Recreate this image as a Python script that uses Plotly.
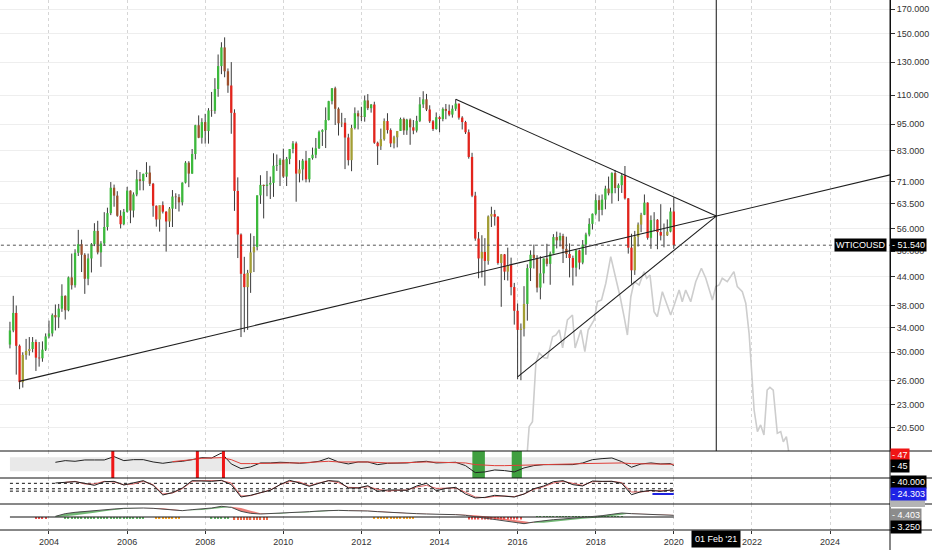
import math
import pandas as pd
import plotly.graph_objects as go

# ------------------------------------------------------------------ data
candle_start = "2003-01-01"   # monthly bars, Jan 2003 .. Jan 2020
opens = [
    31.2, 33.5, 36.6, 31.0, 25.8, 29.6, 30.2, 30.5, 31.6, 29.2, 29.1, 30.4,
    32.5, 33.0, 36.2, 35.8, 37.4, 39.9, 37.1, 43.8, 42.1, 49.6, 51.8, 49.1,
    43.5, 48.2, 51.8, 55.4, 49.7, 52.0, 56.5, 60.6, 68.9, 66.2, 59.8, 57.3,
    61.0, 67.9, 61.4, 66.6, 71.9, 71.3, 73.9, 74.4, 70.3, 62.9, 58.7, 63.1,
    61.05, 58.1, 62.0, 65.9, 65.7, 64.0, 70.7, 78.2, 74.0, 81.7, 94.5, 88.7,
    96.0, 91.75, 101.8, 101.6, 113.5, 127.4, 140.0, 124.1, 115.5, 100.6, 67.8, 54.4,
    44.6, 41.7, 44.8, 49.7, 51.1, 66.3, 69.9, 69.5, 70.0, 70.6, 77.0, 77.3,
    79.4, 72.9, 79.7, 83.8, 86.2, 74.0, 75.6, 79.0, 71.9, 80.0, 81.4, 84.1,
    91.4, 92.2, 97.0, 106.7, 113.9, 102.7, 95.4, 95.7, 88.8, 79.2, 93.2, 100.4,
    98.8, 98.5, 107.1, 103.0, 104.9, 86.5, 84.96, 88.06, 96.5, 92.2, 86.2, 88.9,
    91.8, 97.5, 92.05, 97.2, 93.5, 91.97, 96.6, 105.0, 107.7, 102.3, 96.4, 92.7,
    98.4, 97.5, 102.6, 101.6, 99.7, 102.7, 105.4, 98.2, 96.0, 91.2, 80.5, 66.2,
    53.3, 48.2, 49.8, 47.6, 59.6, 60.3, 59.5, 47.1, 49.2, 45.1, 46.6, 41.7,
    37.0, 33.6, 33.8, 38.3, 45.9, 49.1, 48.3, 41.6, 44.7, 48.2, 46.9, 49.4,
    53.7, 52.8, 54.0, 50.6, 49.3, 48.3, 46.0, 50.2, 47.2, 51.7, 54.4, 57.4,
    60.4, 64.7, 61.6, 64.9, 68.6, 67.0, 74.2, 68.8, 69.8, 73.3, 65.3, 50.9,
    45.4, 53.8, 57.2, 60.1, 63.9, 53.5, 58.5, 58.6, 55.1, 54.1, 54.2, 55.2,
    61.1,
]
highs = [
    35.0, 39.9, 38.0, 31.2, 30.0, 32.1, 32.4, 32.4, 32.0, 31.6, 31.7, 33.0,
    35.2, 36.5, 38.2, 38.3, 42.3, 40.0, 44.0, 49.4, 50.5, 55.7, 53.0, 49.5,
    49.4, 52.1, 57.6, 58.3, 52.6, 60.9, 62.3, 70.9, 70.0, 67.7, 61.5, 61.9,
    69.2, 68.0, 67.3, 75.4, 74.6, 74.0, 78.4, 77.0, 70.6, 63.0, 62.5, 64.3,
    61.2, 62.5, 68.1, 67.0, 66.7, 70.8, 78.8, 78.8, 83.8, 94.7, 99.3, 97.9,
    100.1, 103.0, 111.8, 119.9, 135.1, 143.7, 147.3, 125.9, 130.0, 102.4, 72.6, 54.7,
    48.6, 45.5, 54.7, 54.0, 66.3, 73.4, 70.0, 75.0, 72.9, 82.0, 81.5, 80.0,
    83.95, 80.5, 83.2, 87.2, 87.0, 79.2, 79.7, 83.0, 80.0, 84.4, 88.6, 92.0,
    92.6, 103.4, 106.9, 114.0, 114.8, 103.4, 100.6, 98.0, 90.5, 94.7, 103.4, 101.8,
    103.7, 109.8, 110.6, 105.2, 106.4, 87.0, 92.9, 97.8, 100.4, 93.0, 89.6, 91.3,
    98.2, 98.2, 97.6, 97.8, 97.0, 99.1, 108.9, 112.2, 110.7, 104.5, 97.0, 100.8,
    98.9, 103.4, 105.2, 104.9, 104.5, 107.7, 105.4, 98.9, 96.6, 92.5, 82.2, 67.5,
    55.1, 54.2, 53.4, 59.9, 62.6, 61.6, 59.7, 49.3, 49.3, 50.9, 48.4, 42.6,
    38.4, 34.7, 41.9, 46.8, 50.2, 51.7, 49.0, 48.75, 48.2, 51.9, 49.9, 54.5,
    55.2, 54.9, 54.6, 53.8, 52.0, 48.9, 50.4, 50.4, 52.9, 54.9, 59.05, 60.5,
    66.7, 66.3, 66.6, 69.6, 72.9, 74.5, 75.3, 70.4, 73.9, 76.9, 65.4, 54.6,
    55.4, 57.8, 60.7, 66.6, 64.0, 59.9, 60.9, 58.8, 63.4, 57.5, 58.7, 62.3,
    65.65,
]
lows = [
    30.6, 33.2, 26.8, 24.9, 25.1, 28.9, 29.5, 30.0, 27.3, 27.9, 28.6, 30.2,
    32.2, 32.5, 33.5, 33.9, 36.8, 35.4, 36.9, 41.2, 41.6, 48.8, 45.0, 40.3,
    42.1, 44.9, 51.3, 49.2, 46.2, 51.4, 55.5, 60.0, 62.6, 59.5, 56.1, 57.0,
    60.8, 57.6, 59.3, 66.0, 68.0, 68.0, 72.7, 69.5, 59.5, 56.6, 55.2, 60.5,
    49.9, 56.5, 56.5, 61.9, 61.1, 63.0, 70.4, 69.1, 73.9, 79.5, 88.5, 86.1,
    86.1, 86.1, 98.6, 100.1, 109.1, 122.3, 120.4, 111.3, 90.5, 61.3, 48.3, 32.4,
    33.2, 33.6, 40.5, 45.0, 50.2, 63.5, 59.0, 66.0, 65.1, 65.8, 75.0, 69.5,
    72.4, 69.5, 77.6, 82.0, 64.2, 70.8, 71.5, 70.8, 70.8, 79.4, 80.0, 83.8,
    85.1, 84.2, 96.8, 105.0, 94.6, 89.7, 93.6, 75.7, 77.1, 74.9, 92.5, 92.5,
    96.5, 96.2, 102.0, 100.7, 86.0, 77.3, 83.4, 87.4, 90.6, 84.6, 84.05, 84.5,
    91.8, 90.0, 90.0, 85.6, 90.3, 91.1, 96.0, 103.1, 101.5, 95.6, 91.8, 92.4,
    91.2, 96.4, 97.4, 98.9, 98.2, 101.6, 97.2, 92.5, 90.4, 79.8, 65.7, 52.7,
    43.6, 43.8, 42.0, 46.7, 56.5, 56.9, 46.7, 37.75, 43.2, 43.1, 40.0, 34.5,
    26.2, 26.05, 32.5, 35.2, 43.0, 45.8, 40.6, 39.2, 42.5, 46.3, 42.2, 49.4,
    50.7, 51.2, 47.1, 48.3, 43.8, 42.05, 44.0, 45.6, 46.8, 49.1, 53.9, 55.8,
    59.9, 58.1, 59.95, 61.8, 66.3, 63.6, 67.0, 64.4, 67.1, 64.9, 49.4, 42.4,
    44.35, 51.2, 55.05, 60.0, 53.0, 50.6, 55.3, 50.5, 52.8, 50.99, 54.0, 55.0,
    50.6,
]
closes = [
    33.5, 36.6, 31.0, 25.8, 29.6, 30.2, 30.5, 31.6, 29.2, 29.1, 30.4, 32.5,
    33.0, 36.2, 35.8, 37.4, 39.9, 37.1, 43.8, 42.1, 49.6, 51.8, 49.1, 43.5,
    48.2, 51.8, 55.4, 49.7, 52.0, 56.5, 60.6, 68.9, 66.2, 59.8, 57.3, 61.0,
    67.9, 61.4, 66.6, 71.9, 71.3, 73.9, 74.4, 70.3, 62.9, 58.7, 63.1, 61.05,
    58.1, 62.0, 65.9, 65.7, 64.0, 70.7, 78.2, 74.0, 81.7, 94.5, 88.7, 96.0,
    91.75, 101.8, 101.6, 113.5, 127.4, 140.0, 124.1, 115.5, 100.6, 67.8, 54.4, 44.6,
    41.7, 44.8, 49.7, 51.1, 66.3, 69.9, 69.5, 70.0, 70.6, 77.0, 77.3, 79.4,
    72.9, 79.7, 83.8, 86.2, 74.0, 75.6, 79.0, 71.9, 80.0, 81.4, 84.1, 91.4,
    92.2, 97.0, 106.7, 113.9, 102.7, 95.4, 95.7, 88.8, 79.2, 93.2, 100.4, 98.8,
    98.5, 107.1, 103.0, 104.9, 86.5, 84.96, 88.06, 96.5, 92.2, 86.2, 88.9, 91.8,
    97.5, 92.05, 97.2, 93.5, 91.97, 96.6, 105.0, 107.7, 102.3, 96.4, 92.7, 98.4,
    97.5, 102.6, 101.6, 99.7, 102.7, 105.4, 98.2, 96.0, 91.2, 80.5, 66.2, 53.3,
    48.2, 49.8, 47.6, 59.6, 60.3, 59.5, 47.1, 49.2, 45.1, 46.6, 41.7, 37.0,
    33.6, 33.8, 38.3, 45.9, 49.1, 48.3, 41.6, 44.7, 48.2, 46.9, 49.4, 53.7,
    52.8, 54.0, 50.6, 49.3, 48.3, 46.0, 50.2, 47.2, 51.7, 54.4, 57.4, 60.4,
    64.7, 61.6, 64.9, 68.6, 67.0, 74.2, 68.8, 69.8, 73.3, 65.3, 50.9, 45.4,
    53.8, 57.2, 60.1, 63.9, 53.5, 58.5, 58.6, 55.1, 54.1, 54.2, 55.2, 61.1,
    51.54,
]
symbol = "WTICOUSD"
last_price = 51.54
crosshair_date = "2021-02-01"
crosshair_label = "01 Feb '21"
price_ticks = [20.5, 23, 26, 30, 34, 38, 44, 50, 56, 63.5, 71, 83, 95, 110, 130, 150, 170]

# drawn trend lines (date, price)
trend_long_dates = ["2003-03-28", "2025-08-01"]
trend_long_prices = [25.9, 73.7]
trend_upper_dates = ["2014-06-01", "2021-02-01"]
trend_upper_prices = [107.7, 59.7]
trend_lower_dates = ["2016-01-01", "2021-02-01"]
trend_lower_prices = [26.5, 59.7]

# projected "ghost" bars pattern (grey line)
ghost_dates = [
    "2016-03-26", "2016-04-18", "2016-05-19", "2016-06-20", "2016-07-21", "2016-09-07",
    "2016-10-07", "2016-11-23", "2016-12-25", "2017-01-25", "2017-02-25", "2017-04-11",
    "2017-05-28", "2017-06-22", "2017-08-15", "2017-09-21", "2017-10-22", "2017-12-17",
    "2018-01-17", "2018-02-24", "2018-04-05", "2018-05-21", "2018-07-07", "2018-08-17",
    "2018-09-23", "2018-10-24", "2018-11-25", "2018-12-26", "2019-02-11", "2019-03-28",
    "2019-04-22", "2019-05-23", "2019-06-30", "2019-07-31", "2019-09-16", "2019-10-27",
    "2019-12-03", "2020-01-10", "2020-02-20", "2020-03-20", "2020-04-21", "2020-06-07",
    "2020-07-24", "2020-09-15", "2020-10-26", "2020-12-27", "2021-01-28", "2021-02-28",
    "2021-03-29", "2021-05-15", "2021-07-16", "2021-08-17", "2021-10-03", "2021-11-04",
    "2021-12-05", "2021-12-26", "2022-01-21", "2022-02-21", "2022-03-23", "2022-04-23",
    "2022-05-23", "2022-06-18", "2022-07-19", "2022-08-26", "2022-09-27", "2022-10-21",
    "2022-11-19", "2022-12-13",
]
ghost_prices = [
    17.4, 20.60, 21.13, 28.42, 29.89, 29.15,
    29.15, 32.46, 32.74, 33.58, 30.66, 35.32,
    36.22, 30.66, 33.58, 30.09, 33.58, 35.32,
    38.74, 39.07, 42.52, 48.63, 43.60, 39.72,
    35.91, 32.74, 39.72, 42.86, 42.16, 45.09,
    43.60, 44.34, 36.83, 35.91, 40.74, 38.10,
    36.22, 38.43, 41.09, 38.74, 41.09, 38.74,
    42.86, 45.86, 43.60, 39.07, 41.80, 42.16,
    43.60, 42.86, 45.09, 41.80, 40.74, 38.43,
    33.02, 27.89, 22.41, 20.09, 20.78, 19.75,
    24.79, 25.13, 24.79, 19.92, 20.09, 19.09,
    19.58, 18.0,
]

# panel 1: RSI-like oscillator (quarterly readings, last point Jan 2020)
rsi_start = "2004-03-01"
rsi_black = [
    55.7, 60.5, 58.6, 62.4, 62.4, 62.4, 71.9, 60.5, 63.3, 63.3, 56.7, 52.9,
    56.7, 58.6, 63.3, 69.0, 68.0, 82.3, 51.0, 37.7, 42.5, 53.9, 53.9, 55.8,
    54.8, 52.9, 54.8, 58.6, 68.1, 56.7, 51.0, 56.7, 56.7, 49.1, 52.9, 52.9,
    53.9, 56.7, 58.6, 53.9, 55.8, 55.8, 46.2, 26.3, 28.2, 33.9, 32.0, 28.2,
    39.6, 46.3, 49.1, 49.1, 51.0, 49.1, 53.9, 63.3, 66.2, 68.1, 57.6, 41.5,
    51.0, 53.9, 51.0, 52.0, 46.3,
]
rsi_red_start = "2007-03-01"
rsi_red = [
    57.6, 59.5, 63.3, 67.1, 68.0, 69.0, 63.3, 52.0, 52.0, 52.9, 53.9, 53.9,
    53.9, 53.9, 54.8, 55.8, 58.6, 56.7, 55.8, 56.7, 56.7, 54.8, 53.9, 53.9,
    53.9, 55.8, 56.7, 55.8, 54.8, 54.8, 53.9, 49.1, 47.2, 46.2, 46.2, 46.2,
    47.2, 48.2, 49.1, 49.1, 50.0, 51.0, 52.0, 52.9, 53.9, 53.9, 53.9, 52.0,
    52.0, 52.0, 52.0, 51.0, 50.0,
]
rsi_band = [30, 70]
overbought_starts = ["2005-08-06", "2007-10-06", "2008-06-06"]
overbought_ends = ["2005-09-03", "2007-11-03", "2008-07-04"]
oversold_starts = ["2014-11-04", "2015-11-07"]
oversold_ends = ["2015-03-01", "2016-02-10"]

# panel 2: ADX-like lines
adx_start = "2004-03-01"
adx_black = [
    40.5, 41.9, 42.4, 40.0, 37.0, 42.4, 42.9, 37.5, 40.5, 43.9, 37.0, 22.9,
    26.3, 33.1, 43.9, 42.9, 42.9, 44.4, 38.0, 19.9, 22.4, 26.3, 29.7, 38.0,
    44.4, 40.5, 35.6, 40.0, 43.9, 42.9, 33.1, 33.1, 36.5, 28.2, 30.2, 30.2,
    29.7, 36.1, 40.0, 29.2, 32.6, 34.1, 24.3, 18.5, 19.4, 22.4, 20.9, 19.9,
    24.3, 32.1, 36.1, 42.4, 43.9, 38.0, 36.1, 43.4, 42.9, 42.9, 40.0, 23.3,
    27.7, 29.7, 28.2, 30.2, 29.2,
]
adx_red_start = "2004-06-01"
adx_red = [
    41.4, 42.9, 39.0, 39.0, 42.9, 41.9, 38.0, 39.0, 42.9, 38.0, 24.3,
    25.8, 32.1, 42.9, 43.9, 43.4, 43.9, 40.5, 21.4, 21.9, 25.8, 30.2, 38.0,
    42.9, 41.9, 36.5, 40.5, 43.9, 41.0, 34.1, 33.6, 35.1, 31.2, 28.7, 29.7,
    30.2, 34.6, 37.0, 32.6, 32.6, 33.1, 26.8, 19.9, 18.9, 20.9, 21.4, 20.4,
    24.3, 31.2, 35.1, 40.5, 42.9, 40.0, 37.0, 42.4, 42.9, 42.9, 41.0, 27.3,
    27.3, 29.2, 29.2, 30.2, 29.7,
]
adx_levels = [40, 32, 28.5]
adx_blue_dates = ["2019-06-15", "2020-01-01"]
adx_blue = [24.3, 24.3]

# panel 3: MACD-like lines
macd_start = "2004-03-01"
macd_main = [
    0.067, 0.333, 0.467, 0.567, 0.633, 0.7, 0.8, 0.867, 0.9, 0.9, 0.867, 0.767,
    0.667, 0.633, 0.733, 0.8, 0.9, 1.067, 0.967, 0.567, 0.367, 0.3, 0.333, 0.4,
    0.433, 0.467, 0.533, 0.6, 0.667, 0.667, 0.633, 0.633, 0.6, 0.533, 0.467, 0.4,
    0.367, 0.333, 0.3, 0.3, 0.267, 0.233, 0.167, 0.033, -0.067, -0.2, -0.333, -0.5,
    -0.667, -0.5, -0.367, -0.267, -0.2, -0.133, -0.067, 0.0, 0.133, 0.267, 0.4, 0.333,
    0.3, 0.267, 0.233, 0.2, 0.167,
]
macd_signal = [
    0.0, 0.067, 0.167, 0.3, 0.433, 0.567, 0.7, 0.8, 0.867, 0.9, 0.9, 0.867,
    0.767, 0.667, 0.667, 0.7, 0.8, 0.9, 1.033, 0.9, 0.633, 0.367, 0.3, 0.333,
    0.4, 0.433, 0.467, 0.533, 0.6, 0.633, 0.667, 0.667, 0.633, 0.6, 0.533, 0.467,
    0.4, 0.367, 0.333, 0.3, 0.3, 0.267, 0.233, 0.167, 0.067, -0.033, -0.167, -0.3,
    -0.433, -0.567, -0.567, -0.467, -0.367, -0.267, -0.167, -0.1, 0.0, 0.1, 0.233, 0.367,
    0.333, 0.3, 0.267, 0.233, 0.2,
]
hist_starts = ["2003-09-01", "2004-06-01", "2006-10-01", "2008-03-01", "2008-10-01",
               "2012-05-01", "2014-10-01", "2016-07-01"]
hist_ends = ["2003-12-01", "2006-06-01", "2007-05-01", "2008-08-01", "2009-08-01",
             "2013-05-01", "2016-02-01", "2018-09-01"]
hist_values = [-0.15, -0.12, -0.12, -0.12, -0.3, -0.12, -0.25, 0.1]
hist_colors = ["#ef5350", "#66bb6a", "#ffa726", "#66bb6a", "#f06a4a",
               "#ffa726", "#ef5350", "#66bb6a"]

# ------------------------------------------------------------------ styling
GREEN, OLIVE, RED, BROWN = "#3cb93c", "#a39e34", "#e3241c", "#9e4f2c"
WICK = "#3a3a3a"
PLOT_H = 530.0
PLOT_W = 890.0


def py(px):
    return (PLOT_H - px) / PLOT_H


def qdates(start, values):
    return list(pd.date_range(start, periods=len(values) - 1, freq="3MS")) + [pd.Timestamp("2020-01-01")]


def rect_path(starts, ends, lo, hi):
    xs, ys = [], []
    for s, e in zip(starts, ends):
        xs += [s, e, e, s, s, None]
        ys += [lo, lo, hi, hi, lo, None]
    return xs, ys


dates = pd.date_range(candle_start, periods=len(closes), freq="MS")
fig = go.Figure()

# ---- panel 1 backgrounds (band, oversold zones)
bx, by = rect_path(["2003-01-01"], ["2020-01-01"], rsi_band[0], rsi_band[1])
fig.add_trace(go.Scatter(x=bx, y=by, mode="none", fill="toself", fillcolor="#e9e9e9",
                         hoverinfo="skip", xaxis="x", yaxis="y2"))
ox, oy = rect_path(oversold_starts, oversold_ends, 0, 100)
fig.add_trace(go.Scatter(x=ox, y=oy, mode="none", fill="toself", fillcolor="#3f9f3f",
                         hoverinfo="skip", xaxis="x", yaxis="y2"))

# wicks
wx, wy = [], []
for d, h, l in zip(dates, highs, lows):
    wx += [d, d, None]
    wy += [l, h, None]
fig.add_trace(go.Scatter(x=wx, y=wy, mode="lines", line=dict(color=WICK, width=1),
                         hoverinfo="skip", xaxis="x", yaxis="y"))

# bodies (colour by direction and position vs. 10-bar average)
groups = {GREEN: ([], []), OLIVE: ([], []), RED: ([], []), BROWN: ([], [])}
for i, d in enumerate(dates):
    window = closes[max(0, i - 9): i + 1]
    ma = sum(window) / len(window)
    o, c = opens[i], closes[i]
    if c >= o:
        col = GREEN if c >= ma else OLIVE
    else:
        col = BROWN if c >= ma else RED
    gx, gy = groups[col]
    gx += [d, d, None]
    gy += [o, c, None]
for col, (gx, gy) in groups.items():
    fig.add_trace(go.Scatter(x=gx, y=gy, mode="lines", line=dict(color=col, width=2.3),
                             hoverinfo="skip", xaxis="x", yaxis="y"))

# ghost projection
fig.add_trace(go.Scatter(x=ghost_dates, y=ghost_prices, mode="lines",
                         line=dict(color="#cdcdcd", width=1.6), xaxis="x", yaxis="y"))

# trend lines
for tx, ty in [(trend_long_dates, trend_long_prices), (trend_upper_dates, trend_upper_prices),
               (trend_lower_dates, trend_lower_prices)]:
    fig.add_trace(go.Scatter(x=tx, y=ty, mode="lines", line=dict(color="#1e1e1e", width=1.1),
                             xaxis="x", yaxis="y"))

# last price dotted line
fig.add_trace(go.Scatter(x=["2002-01-01", "2026-06-01"], y=[last_price, last_price], mode="lines",
                         line=dict(color="#555555", width=1, dash="dot"), xaxis="x", yaxis="y"))

# ---- panel 1 lines
fig.add_trace(go.Scatter(x=qdates(rsi_start, rsi_black), y=rsi_black, mode="lines",
                         line=dict(color="#222222", width=1), xaxis="x", yaxis="y2"))
fig.add_trace(go.Scatter(x=qdates(rsi_red_start, rsi_red), y=rsi_red, mode="lines",
                         line=dict(color="#e0403a", width=1), xaxis="x", yaxis="y2"))
rx, ry = rect_path(overbought_starts, overbought_ends, 0, 100)
fig.add_trace(go.Scatter(x=rx, y=ry, mode="none", fill="toself", fillcolor="#ee1616",
                         hoverinfo="skip", xaxis="x", yaxis="y2"))

# ---- panel 2
for lv in adx_levels:
    fig.add_trace(go.Scatter(x=["2003-01-01", "2020-01-01"], y=[lv, lv], mode="lines",
                             line=dict(color="#111111", width=1, dash="dot"), xaxis="x", yaxis="y3"))
fig.add_trace(go.Scatter(x=qdates(adx_red_start, adx_red), y=adx_red, mode="lines",
                         line=dict(color="#e06060", width=1), xaxis="x", yaxis="y3"))
fig.add_trace(go.Scatter(x=qdates(adx_start, adx_black), y=adx_black, mode="lines",
                         line=dict(color="#222222", width=1), xaxis="x", yaxis="y3"))
fig.add_trace(go.Scatter(x=adx_blue_dates, y=adx_blue, mode="lines",
                         line=dict(color="#1f22e0", width=2), xaxis="x", yaxis="y3"))

# ---- panel 3
md = qdates(macd_start, macd_main)
gxs, gys, rxs, rys = [], [], [], []
for i in range(len(md) - 1):
    m0, m1, s0, s1 = macd_main[i], macd_main[i + 1], macd_signal[i], macd_signal[i + 1]
    qx = [md[i], md[i + 1], md[i + 1], md[i], md[i], None]
    qy = [m0, m1, s1, s0, m0, None]
    if m0 + m1 >= s0 + s1:
        gxs += qx; gys += qy
    else:
        rxs += qx; rys += qy
fig.add_trace(go.Scatter(x=gxs, y=gys, mode="none", fill="toself", fillcolor="rgba(67,160,71,0.75)",
                         hoverinfo="skip", xaxis="x", yaxis="y4"))
fig.add_trace(go.Scatter(x=rxs, y=rys, mode="none", fill="toself", fillcolor="rgba(229,83,75,0.75)",
                         hoverinfo="skip", xaxis="x", yaxis="y4"))
fig.add_trace(go.Scatter(x=["2003-01-01", "2020-01-01"], y=[0, 0], mode="lines",
                         line=dict(color="#111111", width=1), xaxis="x", yaxis="y4"))
hx, hy, hc = [], [], []
for s, e, v, c in zip(hist_starts, hist_ends, hist_values, hist_colors):
    for d in pd.date_range(s, e, freq="MS"):
        hx.append(d); hy.append(v); hc.append(c)
fig.add_trace(go.Bar(x=hx, y=hy, marker=dict(color=hc, line=dict(width=0)),
                     width=12 * 86400000, xaxis="x", yaxis="y4"))
fig.add_trace(go.Scatter(x=md, y=macd_main, mode="lines", line=dict(color="#4a4a4a", width=1),
                         xaxis="x", yaxis="y4"))

# ------------------------------------------------------------------ shapes
shapes = [dict(type="line", xref="x", yref="y domain", x0=crosshair_date, x1=crosshair_date,
               y0=0, y1=1, line=dict(color="#111111", width=1))]
x_right = 932 / PLOT_W
for ypx in [451, 478, 504, 530]:
    shapes.append(dict(type="line", xref="paper", yref="paper", x0=0, x1=x_right,
                       y0=py(ypx), y1=py(ypx), line=dict(color="#111111", width=1)))
shapes.append(dict(type="line", xref="paper", yref="paper", x0=1, x1=1, y0=py(550), y1=1,
                   line=dict(color="#111111", width=1)))
# partly hidden grey value tag (its text is covered by the blue tag)
shapes.append(dict(type="rect", xref="paper", yref="paper", x0=1.0, x1=925 / PLOT_W,
                   y0=py(507), y1=py(498), fillcolor="#b4b4b4", line=dict(width=0)))

# ------------------------------------------------------------------ labels
def box(text, ypx, bg, xanchor="left", x=1.0, xshift=0, size=9):
    return dict(text=text, xref="paper", yref="paper", x=x, y=py(ypx), xanchor=xanchor,
                yanchor="middle", showarrow=False, bgcolor=bg, borderpad=1, xshift=xshift,
                font=dict(color="white", size=size, family="Liberation Sans"))

price_y = 9 + (math.log(170) - math.log(last_price)) * 197.9
annotations = [
    box(symbol, price_y, "#000000", xanchor="right", xshift=-3),
    box("- 51.540", price_y, "#000000"),
    box("- 47", 454.5, "#f01515"),
    box("- 45", 465.7, "#000000"),
    box("- 40.000", 482.2, "#000000"),
    box("- 24.303", 493.6, "#1f22e6"),
    box("- 4.403", 514.7, "#8c8c8c"),
    box("- 3.250", 526.7, "#000000"),
    dict(text=crosshair_label, xref="x", yref="paper", x=crosshair_date, y=py(538.5),
         xanchor="center", yanchor="middle", showarrow=False, bgcolor="#000000", borderpad=3,
         font=dict(color="white", size=9, family="Liberation Sans")),
]

fig.update_layout(
    width=932, height=550,
    margin=dict(l=0, r=42, t=0, b=20, autoexpand=False),
    paper_bgcolor="white", plot_bgcolor="white",
    showlegend=False, barmode="overlay",
    font=dict(family="Liberation Sans", size=9, color="#333333"),
    xaxis=dict(type="date", range=["2002-09-30", "2025-07-15"], domain=[0, 1], anchor="y4",
               tick0="2004-01-01", dtick="M24", tickformat="%Y", ticks="outside", ticklen=3,
               tickcolor="#333333", showgrid=True, gridcolor="#d6d6d6", griddash="dot",
               showline=False, zeroline=False, automargin=False,
               tickfont=dict(size=9, color="#333333")),
    yaxis=dict(type="log", domain=[py(451), 1], range=[1.2605, 2.2502], side="right", anchor="x",
               tickvals=price_ticks, ticktext=[f"{v:.3f}" for v in price_ticks],
               ticks="outside", ticklen=4, tickcolor="#333333", showline=True,
               linecolor="#111111", gridcolor="#eeeeee", zeroline=False, automargin=False,
               tickfont=dict(size=9, color="#333333")),
    yaxis2=dict(domain=[py(478), py(451)], range=[10.86, 88.0], anchor="x", showgrid=False,
                showticklabels=False, zeroline=False, ticks="", automargin=False),
    yaxis3=dict(domain=[py(504), py(478)], range=[9.65, 47.8], anchor="x", showgrid=False,
                showticklabels=False, zeroline=False, ticks="", automargin=False),
    yaxis4=dict(domain=[0, py(504)], range=[-1.3, 1.3], anchor="x", showgrid=False,
                showticklabels=False, zeroline=False, ticks="", automargin=False),
    shapes=shapes,
    annotations=annotations,
)

fig.write_html("out.html", config={"displayModeBar": False},
               post_script="document.body.style.margin='0';")
